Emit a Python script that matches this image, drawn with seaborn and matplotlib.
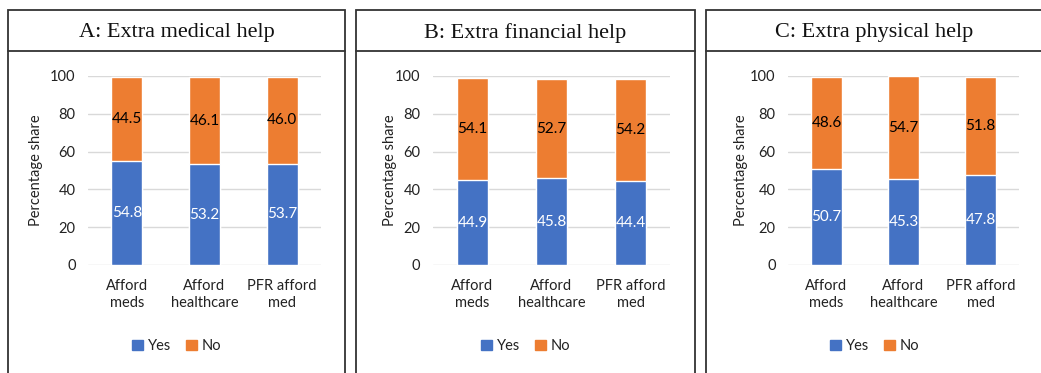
import matplotlib
matplotlib.use("Agg")
import matplotlib.pyplot as plt
import matplotlib.patches as mpatches
import seaborn as sns
import pandas as pd
import numpy as np

categories = ["Afford\nmeds", "Afford\nhealthcare", "PFR afford\nmed"]
titles = ["A: Extra medical help", "B: Extra financial help", "C: Extra physical help"]
yes_A = [54.8, 53.2, 53.7]
no_A = [44.5, 46.1, 46.0]
yes_B = [44.9, 45.8, 44.4]
no_B = [54.1, 52.7, 54.2]
yes_C = [50.7, 45.3, 47.8]
no_C = [48.6, 54.7, 51.8]
yticks = [0, 20, 40, 60, 80, 100]

BLUE = "#4472C4"
ORANGE = "#ED7D31"

sns.set_theme(style="white")
plt.rcParams["font.family"] = ["Lato", "DejaVu Sans"]

W, H = 1041, 373
fig = plt.figure(figsize=(W / 100, H / 100), dpi=100)

# panel geometry in pixels
boxes = [(8, 345), (356, 695), (706, 1043)]
axes_px = [(88, 321), (433, 670), (788, 1019)]
ylabel_x = [36, 390, 741]
box_top = 10
header_y = 51
ax_bottom, ax_top = 265, 76

panels = [(yes_A, no_A), (yes_B, no_B), (yes_C, no_C)]

for i, ((yes, no), title) in enumerate(zip(panels, titles)):
    bx0, bx1 = boxes[i]
    # outer box
    fig.add_artist(mpatches.Rectangle((bx0 / W, -0.05), (bx1 - bx0) / W, (H - box_top) / H + 0.05,
                                      transform=fig.transFigure, fill=False,
                                      edgecolor="#333333", lw=1.3, clip_on=False))
    fig.add_artist(plt.Line2D([bx0 / W, bx1 / W], [(H - header_y) / H] * 2,
                              transform=fig.transFigure, color="#333333", lw=1.3))
    fig.text((bx0 + bx1) / 2 / W, (H - 33) / H, title, ha="center", va="center",
             fontsize=16, family=["Liberation Serif"], color="#111111")

    x0, x1 = axes_px[i]
    ax = fig.add_axes([x0 / W, (H - ax_bottom) / H, (x1 - x0) / W, (ax_bottom - ax_top) / H])
    df = pd.DataFrame({"cat": categories, "yes": yes, "no": no})
    df["total"] = df["yes"] + df["no"]
    sns.barplot(data=df, x="cat", y="total", color=ORANGE, width=0.4, saturation=1,
                ax=ax, zorder=3)
    sns.barplot(data=df, x="cat", y="yes", color=BLUE, width=0.4, saturation=1,
                ax=ax, zorder=3)
    for j, (y_, n_) in enumerate(zip(yes, no)):
        ax.text(j, y_ / 2, f"{y_:.1f}", ha="center", va="center", color="white",
                fontsize=11, zorder=4)
        ax.text(j, y_ + n_ / 2, f"{n_:.1f}", ha="center", va="center", color="black",
                fontsize=11, zorder=4)
    ax.set_ylim(0, 100)
    ax.set_xlim(-0.5, 2.5)
    ax.set_yticks(yticks)
    ax.set_yticklabels([str(t) for t in yticks], fontsize=10.5, color="#222222")
    ax.set_xticks(range(len(categories)))
    ax.set_xticklabels(categories, fontsize=10.5, color="#222222", linespacing=1.3)
    ax.tick_params(axis="y", length=0, pad=9)
    ax.tick_params(axis="x", length=0, pad=10)
    ax.grid(axis="y", color="#D9D9D9", lw=1, zorder=0)
    ax.set_axisbelow(True)
    for s in ax.spines.values():
        s.set_visible(False)
    ax.set_xlabel("")
    ax.set_ylabel("Percentage share", fontsize=10.5, color="#222222", va="center")
    ax.yaxis.set_label_coords((ylabel_x[i] - x0) / (x1 - x0), 0.5)

    handles = [mpatches.Patch(color=BLUE, label="Yes"), mpatches.Patch(color=ORANGE, label="No")]
    fig.legend(handles=handles, loc="center", ncol=2, frameon=False,
               bbox_to_anchor=((bx0 + bx1) / 2 / W, (H - 346) / H),
               fontsize=10.5, handlelength=0.75, handleheight=0.75,
               handletextpad=0.35, columnspacing=1.0, labelcolor="#222222")

fig.savefig("out.png", dpi=100, facecolor="white")
